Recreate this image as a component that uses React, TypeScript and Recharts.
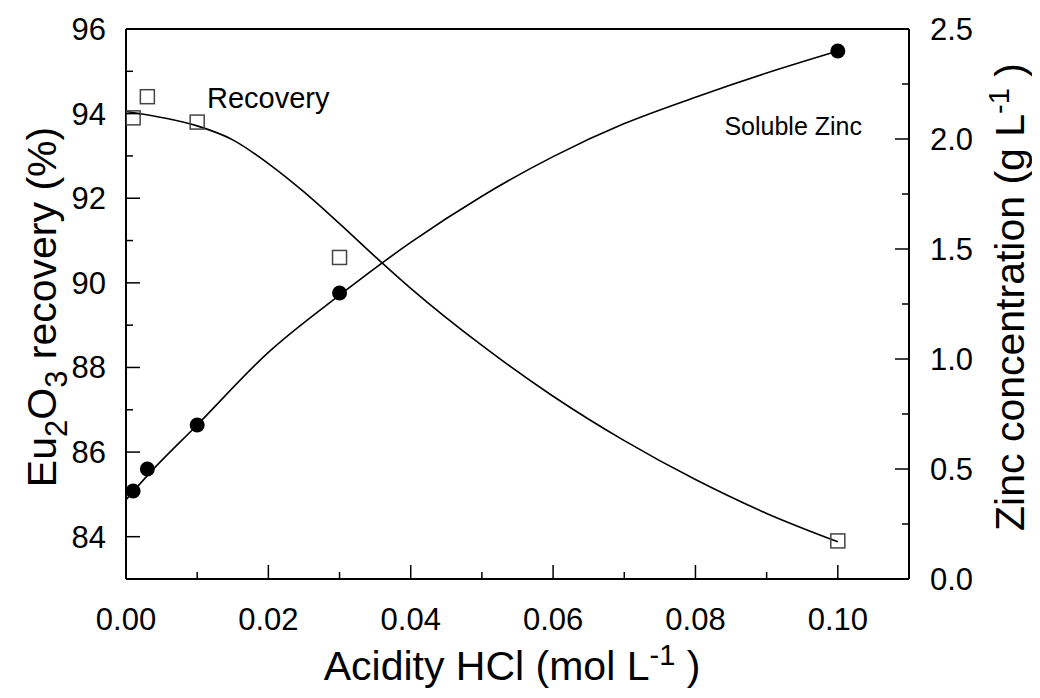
import React from 'react';
import { ComposedChart, Line, Scatter, XAxis, YAxis, ReferenceLine } from 'recharts';

// Measured points
const acidity = [0.001, 0.003, 0.01, 0.03, 0.1];
const recovery = [93.9, 94.4, 93.8, 90.6, 83.9];
const zinc = [0.4, 0.5, 0.7, 1.3, 2.4];

// Fitted curves
const recoveryFitX = [0, 0.005, 0.01, 0.015, 0.02, 0.025, 0.03, 0.035, 0.04, 0.05, 0.06, 0.07, 0.08, 0.09, 0.1];
const recoveryFitY = [94.05, 93.91, 93.71, 93.38, 92.82, 92.15, 91.4, 90.62, 89.87, 88.52, 87.32, 86.27, 85.35, 84.55, 83.88];
const zincFitX = [0, 0.003, 0.01, 0.02, 0.03, 0.04, 0.05, 0.06, 0.07, 0.08, 0.09, 0.1];
const zincFitY = [0.36, 0.47, 0.7, 1.03, 1.29, 1.53, 1.74, 1.92, 2.07, 2.19, 2.3, 2.4];

// Axis ticks (majors labelled, minors unlabelled)
const xTicks = [0, 0.01, 0.02, 0.03, 0.04, 0.05, 0.06, 0.07, 0.08, 0.09, 0.1];
const leftTicks = [84, 85, 86, 87, 88, 89, 90, 91, 92, 93, 94, 95, 96];
const rightTicks = [0, 0.25, 0.5, 0.75, 1, 1.25, 1.5, 1.75, 2, 2.25, 2.5];

const recoveryPts = acidity.map((x, i) => ({ x, y: recovery[i] }));
const zincPts = acidity.map((x, i) => ({ x, y: zinc[i] }));
const recoveryFit = recoveryFitX.map((x, i) => ({ x, y: recoveryFitY[i] }));
const zincFit = zincFitX.map((x, i) => ({ x, y: zincFitY[i] }));

const FONT = '"Liberation Sans", Arial, Helvetica, sans-serif';
const TICK_FONT = 31;
const TITLE_FONT = 41;
const MAJOR = 14;
const MINOR = 7;

const XTick = (props: any) => {
  const { x, y, payload } = props;
  const v = payload.value as number;
  const major = Math.round(v * 100) % 2 === 0;
  return (
    <g>
      <line x1={x} x2={x} y1={y} y2={y - (major ? MAJOR : MINOR)} stroke="#000" strokeWidth={1.5} />
      {major && (
        <text x={x} y={y + 51} textAnchor="middle" fontSize={TICK_FONT} fontFamily={FONT} fill="#000">
          {v.toFixed(2)}
        </text>
      )}
    </g>
  );
};

const LeftTick = (props: any) => {
  const { x, y, payload } = props;
  const v = payload.value as number;
  const major = v % 2 === 0;
  return (
    <g>
      <line x1={x} x2={x + (major ? MAJOR : MINOR)} y1={y} y2={y} stroke="#000" strokeWidth={1.5} />
      {major && (
        <text x={x - 20} y={y + 11} textAnchor="end" fontSize={TICK_FONT} fontFamily={FONT} fill="#000">
          {v}
        </text>
      )}
    </g>
  );
};

const RightTick = (props: any) => {
  const { x, y, payload } = props;
  const v = payload.value as number;
  const major = Math.abs(v * 2 - Math.round(v * 2)) < 1e-6;
  return (
    <g>
      <line x1={x} x2={x - (major ? MAJOR : MINOR)} y1={y} y2={y} stroke="#000" strokeWidth={1.5} />
      {major && (
        <text x={x + 21} y={y + 11} textAnchor="start" fontSize={TICK_FONT} fontFamily={FONT} fill="#000">
          {v.toFixed(1)}
        </text>
      )}
    </g>
  );
};

const OpenSquare = (props: any) => {
  const { cx, cy } = props;
  return <rect x={cx - 7} y={cy - 7} width={14} height={14} fill="none" stroke="#444" strokeWidth={1.5} />;
};

const FilledCircle = (props: any) => {
  const { cx, cy } = props;
  return <circle cx={cx} cy={cy} r={7.5} fill="#000" />;
};

const axisLine = { stroke: '#000', strokeWidth: 2 };

export default function App() {
  return (
    <div style={{ position: 'relative', width: 1024, height: 682 }}>
      <ComposedChart width={1024} height={682} margin={{ top: 21, right: 0, bottom: 0, left: 0 }}>
        <XAxis
          type="number"
          dataKey="x"
          domain={[0, 0.11]}
          ticks={xTicks}
          interval={0}
          height={111}
          tickSize={0}
          tickMargin={0}
          tickLine={false}
          axisLine={axisLine}
          tick={<XTick />}
          allowDataOverflow
        />
        <YAxis
          yAxisId="left"
          type="number"
          domain={[83, 96]}
          ticks={leftTicks}
          interval={0}
          width={118}
          tickSize={0}
          tickMargin={0}
          tickLine={false}
          axisLine={axisLine}
          tick={<LeftTick />}
          allowDataOverflow
        />
        <YAxis
          yAxisId="right"
          orientation="right"
          type="number"
          domain={[0, 2.5]}
          ticks={rightTicks}
          interval={0}
          width={123}
          tickSize={0}
          tickMargin={0}
          tickLine={false}
          axisLine={axisLine}
          tick={<RightTick />}
          allowDataOverflow
        />
        <ReferenceLine yAxisId="left" y={96} stroke="#000" strokeWidth={2} />
        <Line
          yAxisId="left"
          data={recoveryFit}
          dataKey="y"
          type="monotone"
          stroke="#000"
          strokeWidth={1.6}
          dot={false}
          activeDot={false}
          isAnimationActive={false}
        />
        <Line
          yAxisId="right"
          data={zincFit}
          dataKey="y"
          type="monotone"
          stroke="#000"
          strokeWidth={1.6}
          dot={false}
          activeDot={false}
          isAnimationActive={false}
        />
        <Scatter yAxisId="left" data={recoveryPts} dataKey="y" shape={<OpenSquare />} isAnimationActive={false} />
        <Scatter yAxisId="right" data={zincPts} dataKey="y" shape={<FilledCircle />} isAnimationActive={false} />
      </ComposedChart>
      <svg
        width={1024}
        height={682}
        style={{ position: 'absolute', left: 0, top: 0, pointerEvents: 'none' }}
        fontFamily={FONT}
      >
        <text x={199} y={100} fontSize={29} fill="#000">Recovery</text>
        <text x={854} y={127} fontSize={25} textAnchor="end" fill="#000">Soluble Zinc</text>
        <text transform="translate(48,299) rotate(-90)" textAnchor="middle" fontSize={TITLE_FONT} fill="#000">
          Eu<tspan dy={11} fontSize={31}>2</tspan>
          <tspan dy={-11}>O</tspan>
          <tspan dy={11} fontSize={31}>3</tspan>
          <tspan dy={-11}> recovery (%)</tspan>
        </text>
        <text transform="translate(1016,289) rotate(-90)" textAnchor="middle" fontSize={TITLE_FONT} fill="#000">
          Zinc concentration (g L<tspan dy={-15} fontSize={29}>-1</tspan>
          <tspan dy={15}> )</tspan>
        </text>
        <text x={504} y={672} textAnchor="middle" fontSize={TITLE_FONT} fill="#000">
          Acidity HCl (mol L<tspan dy={-15} fontSize={29}>-1</tspan>
          <tspan dy={15}> )</tspan>
        </text>
      </svg>
    </div>
  );
}
